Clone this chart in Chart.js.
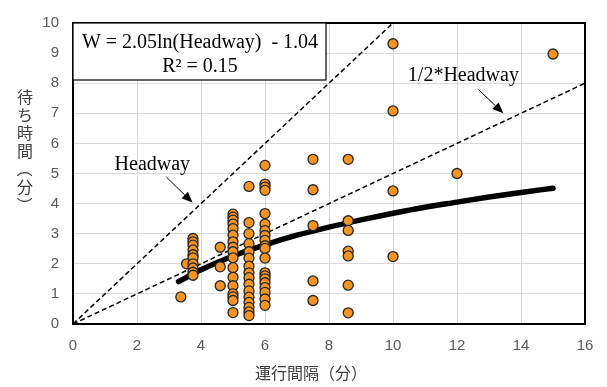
<!DOCTYPE html>
<html>
<head>
<meta charset="utf-8">
<script src="https://cdn.jsdelivr.net/npm/chart.js@4/dist/chart.umd.min.js"></script>
<style>
  html, body { margin: 0; padding: 0; background: #fff; }
  #wrap { width: 607px; height: 387px; }
</style>
</head>
<body>
<div id="wrap"><canvas id="chart" width="607" height="387"></canvas></div>
<script>
// observed headway (min) and waiting time (min)
const headway = [
    3.37, 3.55,
    3.75, 3.75, 3.75, 3.75, 3.75, 3.75, 3.75, 3.75, 3.75, 3.75,
    4.6, 4.6, 4.6,
    5, 5, 5, 5, 5, 5, 5, 5, 5, 5, 5, 5, 5, 5, 5, 5, 5,
    5.5, 5.5, 5.5, 5.5, 5.5, 5.5, 5.5, 5.5, 5.5, 5.5, 5.5, 5.5, 5.5, 5.5, 5.5, 5.5,
    6, 6, 6, 6, 6, 6, 6, 6, 6, 6, 6, 6, 6, 6, 6, 6, 6, 6, 6, 6,
    7.5, 7.5, 7.5, 7.5, 7.5,
    8.6, 8.6, 8.6, 8.6, 8.6, 8.6, 8.6,
    10, 10, 10, 10,
    12,
    15
];
const waiting = [
    0.9, 2.0,
    2.84, 2.73, 2.62, 2.46, 2.3, 2.2, 2.0, 1.86, 1.72, 1.62,
    2.55, 1.9, 1.27,
    3.65, 3.55, 3.45, 3.32, 3.17, 2.95, 2.73, 2.55, 2.4, 2.2, 1.87, 1.55, 1.27, 1.0, 0.9, 0.78, 0.38,
    4.57, 3.37, 3.0, 2.67, 2.4, 2.19, 1.92, 1.7, 1.54, 1.32, 1.1, 0.89, 0.72, 0.55, 0.4, 0.28,
    5.27, 4.65, 4.55, 4.44, 3.67, 3.32, 3.1, 2.94, 2.78, 2.6, 2.51, 2.19, 1.7, 1.6, 1.5, 1.37, 1.21, 1.05, 0.83, 0.62,
    5.47, 4.46, 3.27, 1.43, 0.78,
    5.47, 3.43, 3.11, 2.42, 2.26, 1.29, 0.37,
    9.31, 7.08, 4.42, 2.24,
    5.0,
    8.97
];

// log trendline
const trendX = [3.3, 4, 5, 6, 7, 8, 9, 10, 11, 12, 13, 14, 15];
const trendY = [1.41, 1.80, 2.26, 2.63, 2.95, 3.22, 3.46, 3.68, 3.88, 4.05, 4.22, 4.37, 4.51];

// reference lines
const headLineX = [0, 10];
const headLineY = [0, 10];
const halfLineX = [0, 16];
const halfLineY = [0, 8];

const xTicks = [0, 2, 4, 6, 8, 10, 12, 14, 16];
const yTicks = [0, 1, 2, 3, 4, 5, 6, 7, 8, 9, 10];

const eqLines = ['W = 2.05ln(Headway)  - 1.04', 'R² = 0.15'];
const xTitle = '運行間隔（分）';
const yTitle = ['待', 'ち', '時', '間', '（', '分', '）'];

function toPoints(xs, ys) {
    return xs.map((x, i) => ({ x: x, y: ys[i] }));
}

const SERIF = '"Liberation Serif", "Times New Roman", serif';
const CJK = '"Noto Sans CJK JP", "Noto Sans CJK SC", sans-serif';

function arrow(ctx, x1, y1, x2, y2) {
    const ang = Math.atan2(y2 - y1, x2 - x1);
    const head = 11, half = 4.5;
    ctx.strokeStyle = '#000';
    ctx.fillStyle = '#000';
    ctx.lineWidth = 1;
    ctx.beginPath();
    ctx.moveTo(x1, y1);
    ctx.lineTo(x2 - head * Math.cos(ang), y2 - head * Math.sin(ang));
    ctx.stroke();
    ctx.beginPath();
    ctx.moveTo(x2, y2);
    ctx.lineTo(x2 - head * Math.cos(ang) + half * Math.sin(ang), y2 - head * Math.sin(ang) - half * Math.cos(ang));
    ctx.lineTo(x2 - head * Math.cos(ang) - half * Math.sin(ang), y2 - head * Math.sin(ang) + half * Math.cos(ang));
    ctx.closePath();
    ctx.fill();
}

const decorations = {
    id: 'decorations',
    afterDraw(chart) {
        const ctx = chart.ctx;
        const a = chart.chartArea;
        const xs = chart.scales.x, ys = chart.scales.y;
        ctx.save();

        // plot frame
        ctx.strokeStyle = '#000';
        ctx.lineWidth = 2;
        ctx.strokeRect(a.left, a.top, a.right - a.left, a.bottom - a.top);

        // equation box
        ctx.fillStyle = '#fff';
        ctx.fillRect(a.left, a.top, 253, 57);
        ctx.lineWidth = 1.2;
        ctx.strokeRect(a.left, a.top, 253, 57);
        ctx.fillStyle = '#000';
        ctx.font = '20px ' + SERIF;
        ctx.textAlign = 'center';
        ctx.textBaseline = 'middle';
        ctx.fillText(eqLines[0], a.left + 127, a.top + 20);
        ctx.fillText(eqLines[1], a.left + 127, a.top + 44);

        // line labels with arrows
        ctx.fillText('Headway', xs.getPixelForValue(2.48), ys.getPixelForValue(5.3));
        arrow(ctx, xs.getPixelForValue(2.92), ys.getPixelForValue(4.88),
                   xs.getPixelForValue(3.74), ys.getPixelForValue(4.03));
        ctx.fillText('1/2*Headway', xs.getPixelForValue(12.2), ys.getPixelForValue(8.25));
        arrow(ctx, xs.getPixelForValue(12.67), ys.getPixelForValue(7.79),
                   xs.getPixelForValue(13.45), ys.getPixelForValue(7.0));

        // axis titles
        ctx.fillStyle = '#404040';
        ctx.font = '16px ' + CJK;
        ctx.fillText(xTitle, 311, 373);
        let y = 97;
        yTitle.forEach(ch => {
            if (ch === '（' || ch === '）') {
                ctx.save();
                ctx.translate(25, y);
                ctx.rotate(Math.PI / 2);
                ctx.fillText(ch, 0, 0);
                ctx.restore();
            } else {
                ctx.fillText(ch, 25, y);
            }
            y += 18;
        });
        ctx.restore();
    }
};

new Chart(document.getElementById('chart'), {
    type: 'scatter',
    data: {
        datasets: [
            {
                label: 'observed',
                data: toPoints(headway, waiting),
                backgroundColor: '#F7941D',
                borderColor: '#262626',
                borderWidth: 1.3,
                pointRadius: 5,
                order: 0
            },
            {
                type: 'line',
                label: 'trend',
                data: toPoints(trendX, trendY),
                borderColor: '#000',
                borderWidth: 5.5,
                borderCapStyle: 'round',
                cubicInterpolationMode: 'monotone',
                pointRadius: 0,
                fill: false,
                order: 1
            },
            {
                type: 'line',
                label: 'Headway',
                data: toPoints(headLineX, headLineY),
                borderColor: '#000',
                borderWidth: 1.5,
                borderDash: [5, 3],
                pointRadius: 0,
                fill: false,
                order: 2
            },
            {
                type: 'line',
                label: '1/2*Headway',
                data: toPoints(halfLineX, halfLineY),
                borderColor: '#000',
                borderWidth: 1.5,
                borderDash: [5, 3],
                pointRadius: 0,
                fill: false,
                order: 3
            }
        ]
    },
    options: {
        responsive: false,
        animation: false,
        layout: { padding: { top: 16, right: 22, left: 0, bottom: 0 } },
        plugins: {
            legend: { display: false },
            tooltip: { enabled: false }
        },
        scales: {
            x: {
                type: 'linear',
                min: 0,
                max: 16,
                afterBuildTicks: s => { s.ticks = xTicks.map(v => ({ value: v })); },
                afterFit: s => { s.height = 63; },
                grid: { color: '#d9d9d9', lineWidth: 1, drawTicks: false },
                border: { display: false },
                ticks: {
                    padding: 13,
                    color: '#595959',
                    font: { family: '"Liberation Sans", Arial, sans-serif', size: 15 }
                }
            },
            y: {
                type: 'linear',
                min: 0,
                max: 10,
                afterBuildTicks: s => { s.ticks = yTicks.map(v => ({ value: v })); },
                afterFit: s => { s.width = 73; },
                grid: { color: '#d9d9d9', lineWidth: 1, drawTicks: false },
                border: { display: false },
                ticks: {
                    padding: 14,
                    color: '#595959',
                    font: { family: '"Liberation Sans", Arial, sans-serif', size: 15 }
                }
            }
        }
    },
    plugins: [decorations]
});
</script>
</body>
</html>
